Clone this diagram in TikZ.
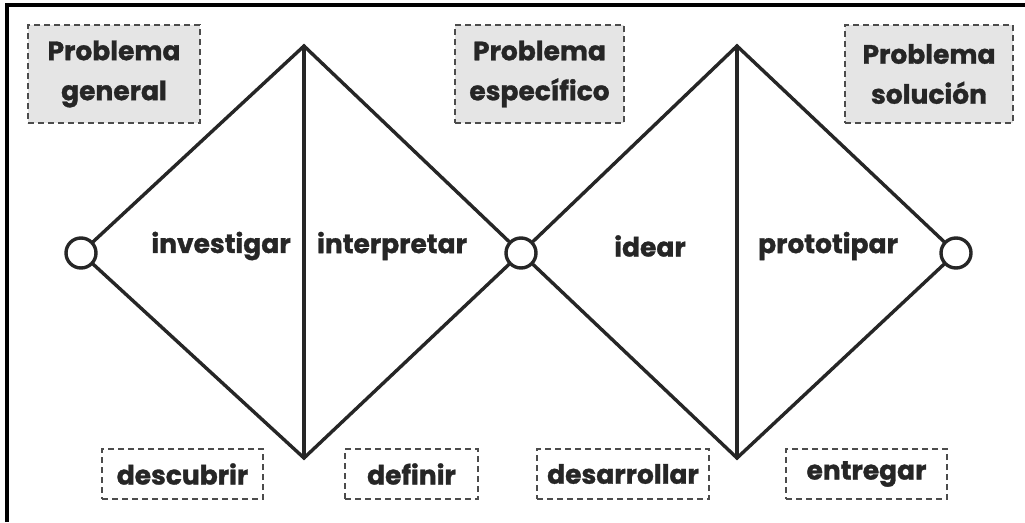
\documentclass[tikz,border=0pt]{standalone}
\usepackage{fontspec}
\setmainfont{Poppins}[BoldFeatures={FakeBold=1.2}]
\begin{document}
\begin{tikzpicture}[x=1pt,y=-1pt,
  lbl/.style={font=\bfseries\fontsize{26.5}{32}\selectfont, text=black!85, inner sep=0pt},
  dline/.style={line width=3.4pt, draw=black!85, line join=miter, line cap=round},
  ring/.style={circle, draw=black!85, line width=3.4pt, minimum size=30pt, inner sep=0pt},
  dbox/.style={draw=black!70, dash pattern=on 6pt off 4pt, line width=1.8pt, align=center,
     font=\bfseries\fontsize{26.5}{40}\selectfont, text=black!85, inner sep=0pt},
  topbox/.style={dbox, fill=black!10, minimum height=98pt},
  botbox/.style={dbox, fill=white, minimum height=50pt}]
\useasboundingbox (0,0) rectangle (1025,522);
\draw[line width=3.5pt, black] (7,522) -- (7,5) -- (1025,5);

% circles and apexes
\node[ring] (c1) at (81,253) {};
\node[ring] (c2) at (521,253) {};
\node[ring] (c3) at (956,253) {};
\coordinate (t1) at (304,46);
\coordinate (b1) at (304,458);
\coordinate (t2) at (737,46);
\coordinate (b2) at (737,458);

\draw[dline] (c1) -- (t1) -- (c2);
\draw[dline] (c1) -- (b1) -- (c2);
\draw[dline] (t1) -- (b1);
\draw[dline] (c2) -- (t2) -- (c3);
\draw[dline] (c2) -- (b2) -- (c3);
\draw[dline] (t2) -- (b2);

% top boxes
\node[topbox, minimum width=172pt] (pg) at (114,74) {Problema\\general};
\node[topbox, minimum width=169pt] (pe) at (539.5,74) {Problema\\específico};
\node[topbox, minimum width=168pt] (ps) at (929,74) {Problema\\solución};

% inner labels
\node[lbl] (inv) at (221,246) {investigar};
\node[lbl] (int) at (392,246) {interpretar};
\node[lbl] (ide) at (650,246) {idear};
\node[lbl] (pro) at (828,246) {prototipar};

% bottom boxes
\node[botbox, minimum width=161pt] (des) at (182.5,474) {descubrir};
\node[botbox, minimum width=133pt] (def) at (411.5,474) {definir};
\node[botbox, minimum width=172pt] (dsa) at (623,474) {desarrollar};
\node[botbox, minimum width=161pt] (ent) at (866.5,474) {entregar};
\end{tikzpicture}
\end{document}
